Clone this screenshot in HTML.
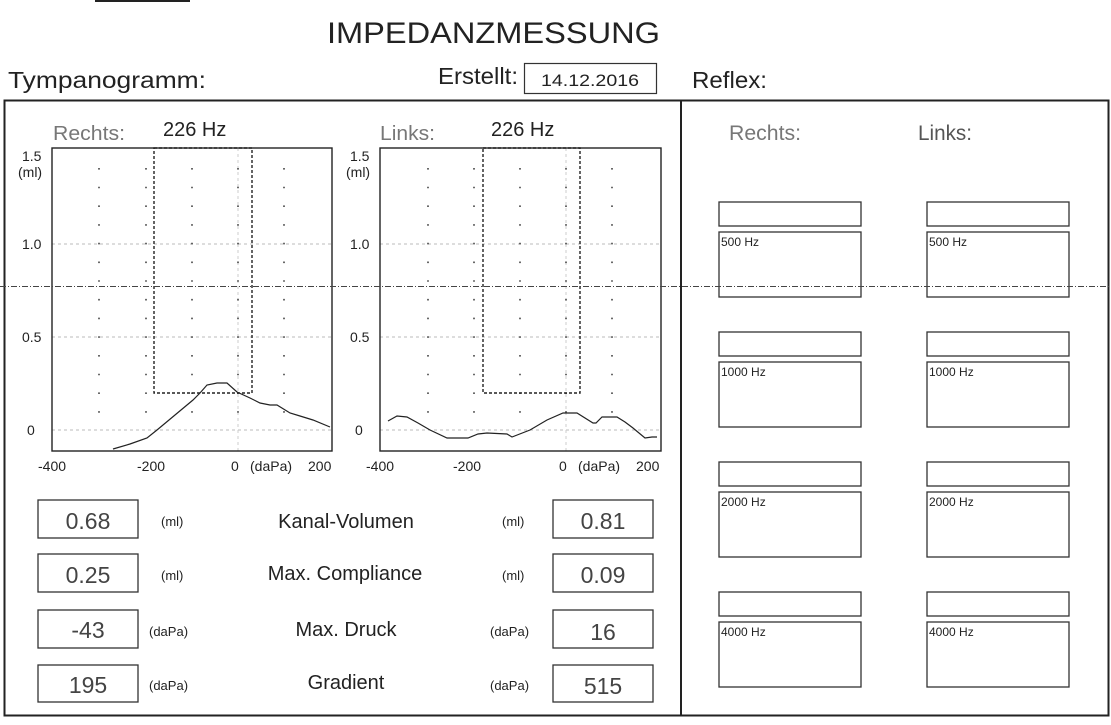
<!DOCTYPE html>
<html><head><meta charset="utf-8"><style>
html,body{margin:0;padding:0;background:#fff;}
svg{display:block;font-family:"Liberation Sans",Arial,sans-serif;}
</style></head><body>
<svg width="1111" height="725" viewBox="0 0 1111 725" xmlns="http://www.w3.org/2000/svg">
<rect width="1111" height="725" fill="#fff"/>
<line x1="95" y1="1" x2="190" y2="1" stroke="#222" stroke-width="2"/>
<text x="327" y="43" font-size="30" fill="#222" textLength="333" lengthAdjust="spacingAndGlyphs">IMPEDANZMESSUNG</text>
<text x="8" y="88" font-size="23" fill="#222" textLength="198" lengthAdjust="spacingAndGlyphs">Tympanogramm:</text>
<text x="438" y="84" font-size="23" fill="#222" textLength="80" lengthAdjust="spacingAndGlyphs">Erstellt:</text>
<rect x="524.5" y="63.5" width="132" height="30" fill="none" stroke="#333" stroke-width="1.2"/>
<text x="541" y="86" font-size="17" fill="#222" textLength="98" lengthAdjust="spacingAndGlyphs">14.12.2016</text>
<text x="692" y="88" font-size="23" fill="#222" textLength="75" lengthAdjust="spacingAndGlyphs">Reflex:</text>
<!-- frame -->
<rect x="4.5" y="100.5" width="1104" height="615" fill="none" stroke="#222" stroke-width="2"/>
<line x1="681" y1="100" x2="681" y2="716" stroke="#222" stroke-width="2"/>

<!-- left chart -->
<g>
<text x="53" y="140" font-size="20" fill="#777" textLength="72" lengthAdjust="spacingAndGlyphs">Rechts:</text>
<text x="163" y="136" font-size="20" fill="#222">226 Hz</text>
<line x1="52" y1="244" x2="332" y2="244" stroke="#bbb" stroke-dasharray="3 3"/>
<line x1="52" y1="337" x2="332" y2="337" stroke="#bbb" stroke-dasharray="3 3"/>
<line x1="52" y1="430" x2="332" y2="430" stroke="#bbb" stroke-dasharray="3 3"/>
<line x1="238" y1="148" x2="238" y2="451" stroke="#ccc" stroke-dasharray="3 3"/>
<g stroke="#444" stroke-width="1.6" stroke-dasharray="1.6 17.1">
<line x1="99" y1="168" x2="99" y2="414"/><line x1="146" y1="168" x2="146" y2="414"/><line x1="192" y1="168" x2="192" y2="414"/><line x1="238" y1="168" x2="238" y2="414"/><line x1="284" y1="168" x2="284" y2="414"/>
</g>
<rect x="154" y="148" width="98" height="245" fill="none" stroke="#222" stroke-width="1.4" stroke-dasharray="3 2"/>
<rect x="52" y="148" width="280" height="303" fill="none" stroke="#222" stroke-width="1.4"/>
<polyline fill="none" stroke="#222" stroke-width="1.2" points="113,449 130,444 147,438 157,430 175,415 193,400 200,393 207,385 217,383 227,383 237,392 250,398 260,403 270,405 277,405 290,413 300,416 313,420 330,427"/>
<g font-size="14" fill="#222">
<text x="22" y="161">1.5</text><text x="18" y="177">(ml)</text>
<text x="22" y="249">1.0</text><text x="22" y="342">0.5</text><text x="27" y="435">0</text>
<text x="38" y="471">-400</text><text x="137" y="471">-200</text><text x="231" y="471">0</text><text x="250" y="471">(daPa)</text><text x="308" y="471">200</text>
</g>
</g>

<!-- right chart -->
<g>
<text x="380" y="140" font-size="20" fill="#777" textLength="55" lengthAdjust="spacingAndGlyphs">Links:</text>
<text x="491" y="136" font-size="20" fill="#222">226 Hz</text>
<line x1="380" y1="244" x2="661" y2="244" stroke="#bbb" stroke-dasharray="3 3"/>
<line x1="380" y1="337" x2="661" y2="337" stroke="#bbb" stroke-dasharray="3 3"/>
<line x1="380" y1="430" x2="661" y2="430" stroke="#bbb" stroke-dasharray="3 3"/>
<line x1="566" y1="148" x2="566" y2="451" stroke="#ccc" stroke-dasharray="3 3"/>
<g stroke="#444" stroke-width="1.6" stroke-dasharray="1.6 17.1">
<line x1="428" y1="168" x2="428" y2="414"/><line x1="474" y1="168" x2="474" y2="414"/><line x1="520" y1="168" x2="520" y2="414"/><line x1="566" y1="168" x2="566" y2="414"/><line x1="612" y1="168" x2="612" y2="414"/>
</g>
<rect x="483" y="148" width="97" height="245" fill="none" stroke="#222" stroke-width="1.4" stroke-dasharray="3 2"/>
<rect x="380" y="148" width="281" height="303" fill="none" stroke="#222" stroke-width="1.4"/>
<polyline fill="none" stroke="#222" stroke-width="1.2" points="388,421 397,416 407,417 418,423 430,430 447,438 468,438 478,434 487,433 507,434 512,437 530,430 547,420 563,413 577,413 593,423 596,423 602,417 617,417 625,422 633,428 645,438 652,437 657,437"/>
<g font-size="14" fill="#222">
<text x="350" y="161">1.5</text><text x="346" y="177">(ml)</text>
<text x="350" y="249">1.0</text><text x="350" y="342">0.5</text><text x="355" y="435">0</text>
<text x="366" y="471">-400</text><text x="453" y="471">-200</text><text x="559" y="471">0</text><text x="578" y="471">(daPa)</text><text x="636" y="471">200</text>
</g>
</g>

<!-- values -->
<g fill="none" stroke="#333" stroke-width="1.3">
<rect x="38" y="500" width="100" height="38"/><rect x="38" y="554" width="100" height="38"/><rect x="38" y="610" width="100" height="38"/><rect x="38" y="665" width="100" height="37"/>
<rect x="553" y="500" width="100" height="38"/><rect x="553" y="554" width="100" height="38"/><rect x="553" y="610" width="100" height="38"/><rect x="553" y="665" width="100" height="37"/>
</g>
<g font-size="23" fill="#444" text-anchor="middle">
<text x="88" y="529">0.68</text><text x="88" y="583">0.25</text><text x="88" y="638">-43</text><text x="88" y="693">195</text>
<text x="603" y="529">0.81</text><text x="603" y="583">0.09</text><text x="603" y="640">16</text><text x="603" y="694">515</text>
</g>
<g font-size="13" fill="#222">
<text x="161" y="526">(ml)</text><text x="161" y="580">(ml)</text><text x="149" y="636">(daPa)</text><text x="149" y="690">(daPa)</text>
<text x="502" y="526">(ml)</text><text x="502" y="580">(ml)</text><text x="490" y="636">(daPa)</text><text x="490" y="690">(daPa)</text>
</g>
<g font-size="20" fill="#222" text-anchor="middle">
<text x="346" y="528">Kanal-Volumen</text><text x="345" y="580">Max. Compliance</text><text x="346" y="636">Max. Druck</text><text x="346" y="689">Gradient</text>
</g>

<!-- reflex -->
<text x="729" y="140" font-size="21" fill="#777" textLength="72" lengthAdjust="spacingAndGlyphs">Rechts:</text>
<text x="918" y="140" font-size="21" fill="#555" textLength="54" lengthAdjust="spacingAndGlyphs">Links:</text>
<g fill="none" stroke="#333" stroke-width="1.3">
<rect x="719" y="202" width="142" height="24"/><rect x="719" y="232" width="142" height="65"/>
<rect x="927" y="202" width="142" height="24"/><rect x="927" y="232" width="142" height="65"/>
<rect x="719" y="332" width="142" height="24"/><rect x="719" y="362" width="142" height="65"/>
<rect x="927" y="332" width="142" height="24"/><rect x="927" y="362" width="142" height="65"/>
<rect x="719" y="462" width="142" height="24"/><rect x="719" y="492" width="142" height="65"/>
<rect x="927" y="462" width="142" height="24"/><rect x="927" y="492" width="142" height="65"/>
<rect x="719" y="592" width="142" height="24"/><rect x="719" y="622" width="142" height="65"/>
<rect x="927" y="592" width="142" height="24"/><rect x="927" y="622" width="142" height="65"/>
</g>
<g font-size="12" fill="#222">
<text x="721" y="246">500 Hz</text><text x="929" y="246">500 Hz</text>
<text x="721" y="376">1000 Hz</text><text x="929" y="376">1000 Hz</text>
<text x="721" y="506">2000 Hz</text><text x="929" y="506">2000 Hz</text>
<text x="721" y="636">4000 Hz</text><text x="929" y="636">4000 Hz</text>
</g>
<!-- fold line -->
<line x1="0" y1="286.5" x2="1111" y2="286.5" stroke="#444" stroke-width="1" stroke-dasharray="6 2 1 2"/>
</svg>
</body></html>
